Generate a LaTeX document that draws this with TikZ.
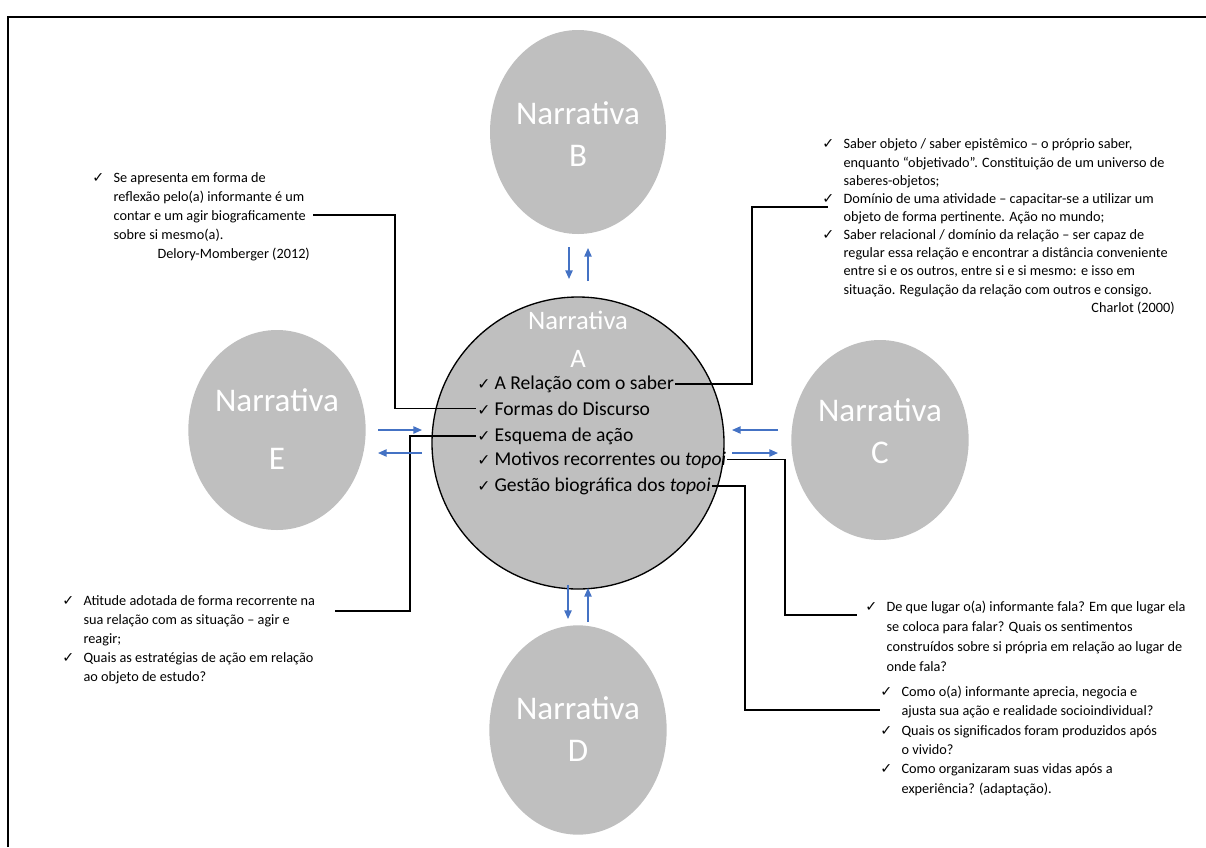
\documentclass[tikz,border=0pt]{standalone}
\usepackage{fontspec}
\setmainfont{Carlito}
\newfontfamily\symf{DejaVu Sans}
\usetikzlibrary{shapes.geometric,arrows.meta}
\definecolor{narrgray}{RGB}{191,191,191}
\definecolor{flowblue}{RGB}{68,114,196}
\newcommand{\ck}[1][16pt]{\makebox[#1][l]{\symf ✓}}
\newcommand{\tck}{\makebox[13pt][l]{\scalebox{0.8}{\symf ✓}}}
\newcommand{\ind}{\hspace*{16pt}}

\begin{document}
\begin{tikzpicture}[x=0.75pt,y=0.75pt,yscale=-1,xscale=1,
	narr/.style={ellipse,fill=narrgray,inner sep=0pt},
	title/.style={text=white,align=center,inner sep=0.75pt},
	note/.style={anchor=base west,align=left,inner sep=0.75pt,font=\fontsize{10.7}{14.25}\selectfont},
	topic/.style={anchor=base west,inner sep=0.75pt,font=\fontsize{14.7}{17}\selectfont},
	flow/.style={draw=flowblue,line width=1.1pt,-{Triangle[length=6.5pt,width=5.5pt]}},
	link/.style={draw=black,line width=1pt}]
	\useasboundingbox (0,0) rectangle (1206,847);
	% frame
	\draw [line width=2pt] (8,847) -- (8,17) -- (1206,17) ;

	% narratives
	\node [narr,minimum width=132pt,minimum height=153pt] (nB) at (578,132) {};
	\node [narr,minimum width=133pt,minimum height=150pt] (nE) at (277,430) {};
	\node [narr,minimum width=133pt,minimum height=150pt] (nC) at (880,440) {};
	\node [narr,minimum width=133pt,minimum height=157pt] (nD) at (578,730) {};
	\node [narr,draw=black,line width=1pt,minimum size=219pt] (nA) at (578,443) {};

	\node [title,font=\fontsize{24.8}{32}\selectfont] (tB) at (578,134) {Narrativa\\B};
	\node [title,font=\fontsize{24.8}{43}\selectfont] (tE) at (277,429) {Narrativa\\E};
	\node [title,font=\fontsize{24.8}{31.5}\selectfont] (tC) at (880,431) {Narrativa\\C};
	\node [title,font=\fontsize{24.8}{31.5}\selectfont] (tD) at (578,729) {Narrativa\\D};
	\node [title,font=\fontsize{20}{28.5}\selectfont] (tA) at (578,339) {Narrativa\\A};

	% topics of narrative A
	\node [topic] (itRel) at (476,389) {\tck A Relação com o saber};
	\node [topic] (itFor) at (476,415) {\tck Formas do Discurso};
	\node [topic] (itEsq) at (476,441) {\tck Esquema de ação};
	\node [topic] (itMot) at (476,465) {\tck Motivos recorrentes ou \textit{topoi}};
	\node [topic] (itGes) at (476,491) {\tck Gestão biográfica dos \textit{topoi}};

	% notes (anchored at the baseline of their last line)
	\node [note] (nLT) at (91,258) {\ck Se apresenta em forma de\\ \ind reflexão pelo(a) informante é um\\ \ind contar e um agir biograficamente\\ \ind sobre si mesmo(a).\\ \hspace*{49pt}Delory-Momberger (2012)};
	\node [note,font=\fontsize{10.7}{13.6}\selectfont] (nRT) at (821,294) {\ck Saber objeto / saber epistêmico – o próprio saber,\\ \ind enquanto “objetivado”. Constituição de um universo de\\ \ind saberes-objetos;\\ \ck Domínio de uma atividade – capacitar-se a utilizar um\\ \ind objeto de forma pertinente. Ação no mundo;\\ \ck Saber relacional / domínio da relação – ser capaz de\\ \ind regular essa relação e encontrar a distância conveniente\\ \ind entre si e os outros, entre si e si mesmo: e isso em\\ \ind situação. Regulação da relação com outros e consigo.};
	\node [note,anchor=base east] (refC) at (1176,312) {Charlot (2000)};
	\node [note] (nLB) at (61,681) {\ck Atitude adotada de forma recorrente na\\ \ind sua relação com as situação – agir e\\ \ind reagir;\\ \ck Quais as estratégias de ação em relação\\ \ind ao objeto de estudo?};
	\node [note,font=\fontsize{10.7}{15}\selectfont] (nRB1) at (864,671) {\ck De que lugar o(a) informante fala? Em que lugar ela\\ \ind se coloca para falar? Quais os sentimentos\\ \ind construídos sobre si própria em relação ao lugar de\\ \ind onde fala?};
	\node [note,font=\fontsize{10.7}{14.5}\selectfont] (nRB2) at (879,793) {\ck Como o(a) informante aprecia, negocia e\\ \ind ajusta sua ação e realidade socioindividual?\\ \ck Quais os significados foram produzidos após\\ \ind o vivido?\\ \ck Como organizaram suas vidas após a\\ \ind experiência? (adaptação).};

	% link ends
	\coordinate (jLT) at (313,215) ;
	\coordinate (kLT) at (395,300) ;
	\coordinate (jLB) at (335,611) ;
	\coordinate (kLB) at (410,520) ;
	\coordinate (kRT) at (752,207) ;
	\coordinate (jRT) at (828,207) ;
	\coordinate (kMo) at (785,540) ;
	\coordinate (jRB1) at (857,615) ;
	\coordinate (kGe) at (745,600) ;
	\coordinate (jRB2) at (880,710) ;

	\draw [link] (jLT) -| (kLT) |- (itFor.west) ;
	\draw [link] (jLB) -| (kLB) |- (itEsq.west) ;
	\draw [link] (itRel.east) -| (kRT) -- (jRT) ;
	\draw [link] (itMot.east) -| (kMo) |- (jRB1) ;
	\draw [link] (itGes.east) -| (kGe) |- (jRB2) ;

	% arrows between narratives
	\coordinate (bA1) at (569,247) ; \coordinate (bA2) at (569,279) ;
	\coordinate (aB1) at (588,281) ; \coordinate (aB2) at (588,248) ;
	\coordinate (aD1) at (568,585) ; \coordinate (aD2) at (568,619) ;
	\coordinate (dA1) at (588,622) ; \coordinate (dA2) at (588,588) ;
	\coordinate (eA1) at (378,430) ; \coordinate (eA2) at (422,430) ;
	\coordinate (aE1) at (422,453) ; \coordinate (aE2) at (378,453) ;
	\coordinate (cA1) at (778,430) ; \coordinate (cA2) at (732,430) ;
	\coordinate (aC1) at (732,453) ; \coordinate (aC2) at (778,453) ;

	\draw [flow] (bA1) -- (bA2) ;
	\draw [flow] (aB1) -- (aB2) ;
	\draw [flow] (aD1) -- (aD2) ;
	\draw [flow] (dA1) -- (dA2) ;
	\draw [flow] (eA1) -- (eA2) ;
	\draw [flow] (aE1) -- (aE2) ;
	\draw [flow] (cA1) -- (cA2) ;
	\draw [flow] (aC1) -- (aC2) ;
\end{tikzpicture}
\end{document}
